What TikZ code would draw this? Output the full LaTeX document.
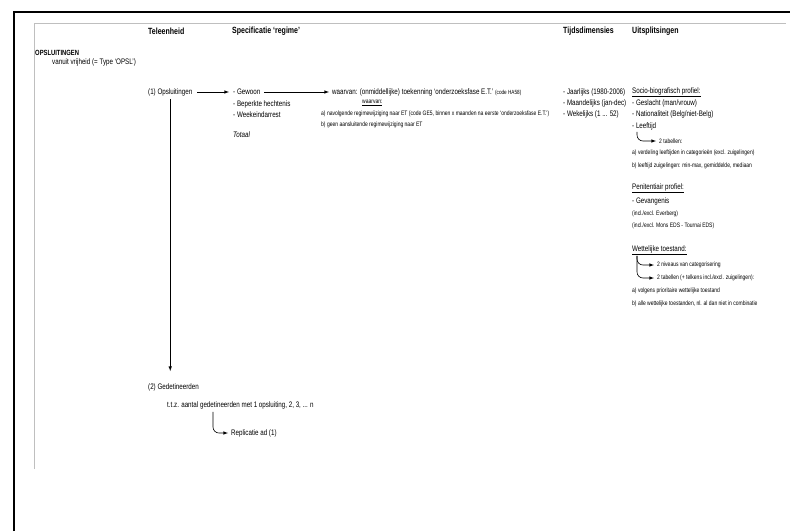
\documentclass[tikz,border=0pt]{standalone}
\usepackage{fontspec}
\setmainfont{Liberation Sans}[FakeStretch=0.78]
\usetikzlibrary{positioning, arrows}

\tikzset{
    txt/.style={anchor=west, inner sep=0pt, font=\fontsize{8}{9}\selectfont},
    sml/.style={anchor=west, inner sep=0pt, font=\fontsize{6.4}{7}\selectfont},
    hdr/.style={anchor=west, inner sep=0pt, font=\fontsize{9}{10}\selectfont\bfseries},
    pijl/.style={->, >=latex, semithick},
    haak/.style={->, >=latex, semithick, rounded corners=6pt},
}

\begin{document}
\begin{tikzpicture}[x=1pt, y=-1pt]
    \useasboundingbox (0,0) rectangle (790,531);
    % kader
    \draw[line width=2.2pt] (14,531) -- (14,12) -- (790,12);
    \draw[black!25, line width=0.8pt] (34,469) -- (34,23) -- (786,23);

    % kolomtitels
    \node (teleenheid) [hdr] at (148,31) {Teleenheid};
    \node (specificatie) [hdr] at (232,31) {Specificatie `regime'};
    \node (tijd) [hdr] at (563,31) {Tijdsdimensies};
    \node (uitsplitsing) [hdr] at (632,31) {Uitsplitsingen};

    \node (titel) [hdr, font=\fontsize{7.5}{8}\selectfont\bfseries] at (35,53) {OPSLUITINGEN};
    \node (vanuit) [txt] at (52,62) {vanuit vrijheid (= Type `OPSL')};

    % teleenheid + regime
    \node (opsl) [txt] at (148,92) {(1) Opsluitingen};
    \node (gewoon) [txt] at (233,92) {- Gewoon};
    \node (beperkt) [txt] at (233,104) {- Beperkte hechtenis};
    \node (weekeind) [txt] at (233,115) {- Weekeindarrest};
    \node (totaal) [txt, font=\fontsize{8}{9}\selectfont\itshape] at (233,135) {Totaal};

    \node (waarvan) [txt] at (332,92) {waarvan: (onmiddellijke) toekenning `onderzoeksfase E.T.' {\fontsize{6}{7}\selectfont(code HA58)}};
    \node (waarvanb) [sml] at (362,103) {\underline{waarvan:}};
    \node (navolg) [sml] at (321,114) {a) navolgende regimewijziging naar ET (code GE5, binnen x maanden na eerste `onderzoeksfase E.T.')};
    \node (geen) [sml] at (321,125) {b) geen aansluitende regimewijziging naar ET};

    % tijdsdimensies
    \node (jaar) [txt] at (563,92) {- Jaarlijks (1980-2006)};
    \node (maand) [txt] at (563,103) {- Maandelijks (jan-dec)};
    \node (week) [txt] at (563,114) {- Wekelijks (1 ... 52)};

    % uitsplitsingen
    \node (socio) [txt] at (632,92) {\underline{Socio-biografisch profiel:}};
    \node (geslacht) [txt] at (632,103) {- Geslacht (man/vrouw)};
    \node (nation) [txt] at (632,114) {- Nationaliteit (Belg/niet-Belg)};
    \node (leeftijd) [txt] at (632,126) {- Leeftijd};
    \node (tabellen) [sml] at (659,141) {2 tabellen:};
    \node (verdeling) [sml] at (632,153) {a) verdeling leeftijden in categorieën (excl. zuigelingen)};
    \node (zuig) [sml] at (632,166) {b) leeftijd zuigelingen: min-max, gemiddelde, mediaan};

    \node (penit) [txt] at (632,188) {\underline{Penitentiair profiel:}};
    \node (gevang) [txt] at (632,201) {- Gevangenis};
    \node (everberg) [sml] at (632,214) {(incl./excl. Everberg)};
    \node (mons) [sml] at (632,226) {(incl./excl. Mons EDS - Tournai EDS)};

    \node (wettelijk) [txt] at (632,250) {\underline{Wettelijke toestand:}};
    \node (niveaus) [sml] at (657,265) {2 niveaus van categorisering};
    \node (tabellenb) [sml] at (657,278) {2 tabellen (+ telkens incl./excl. zuigelingen):};
    \node (volgens) [sml] at (632,291) {a) volgens prioritaire wettelijke toestand};
    \node (alle) [sml] at (632,304) {b) alle wettelijke toestanden, nl. al dan niet in combinatie};

    % gedetineerden
    \node (gedet) [txt] at (148,387) {(2) Gedetineerden};
    \node (ttz) [txt] at (167,405) {t.t.z. aantal gedetineerden met 1 opsluiting, 2, 3, ... n};
    \node (replicatie) [txt] at (231,433) {Replicatie ad (1)};

    % pijlen
    \draw [pijl, shorten <=5pt, shorten >=4pt] (opsl.east) -- (gewoon.west);
    \draw [pijl, shorten <=4pt, shorten >=3pt] (gewoon.east) -- (waarvan.west);
    \draw [pijl, shorten <=3pt, shorten >=12pt] (opsl.south) -- (opsl.south |- gedet.north);
    \draw [haak, shorten >=3pt] ([xshift=5pt, yshift=-2pt]leeftijd.south west) |- (tabellen.west);
    \draw [haak, shorten >=3pt] ([xshift=5pt, yshift=-1pt]wettelijk.south west) |- (niveaus.west);
    \draw [haak, shorten >=3pt] ([xshift=5pt, yshift=-1pt]wettelijk.south west) |- (tabellenb.west);
    \draw [haak, shorten >=3pt] ([xshift=46pt, yshift=-3pt]ttz.south west) |- (replicatie.west);
\end{tikzpicture}
\end{document}
